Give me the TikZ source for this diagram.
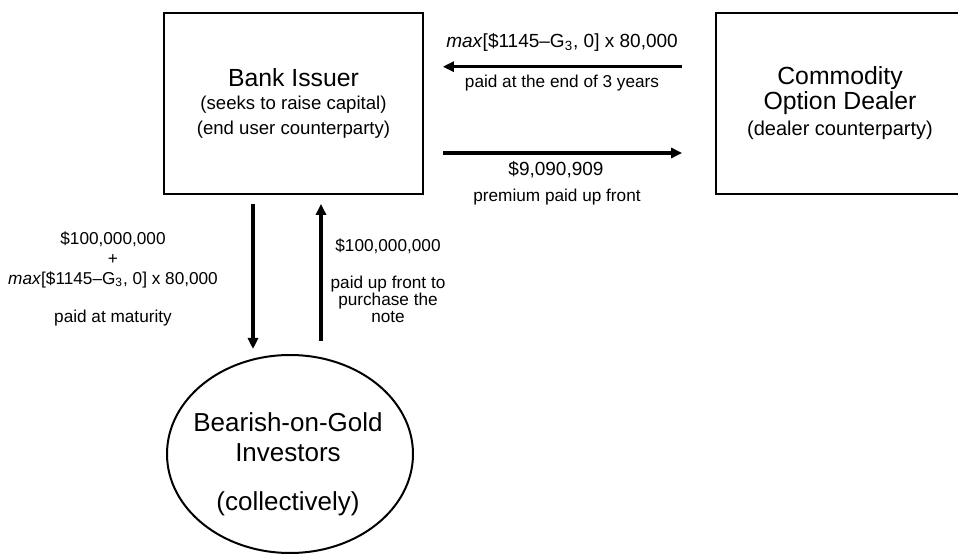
\documentclass[tikz,border=0pt]{standalone}
\usepackage{fontspec}
\setmainfont{Liberation Sans}
\usepackage{tikz}
\usetikzlibrary{arrows.meta,calc,shapes.geometric}
\newcommand{\partyfont}{\fontsize{12.4}{14}\selectfont}
\tikzset{
  flow/.style={-{Triangle[length=5.5pt,width=5pt]}, line width=1.8pt},
  party/.style={draw, line width=0.85pt, align=center, inner sep=0pt,
                minimum height=90.5pt},
  crowd/.style={draw, ellipse, line width=1pt, inner sep=0pt},
  amount/.style={align=center, inner sep=0pt, font=\fontsize{9.5}{11}\selectfont},
  note/.style={align=center, inner sep=0pt, font=\fontsize{8.6}{10}\selectfont},
}

\begin{document}
\begin{tikzpicture}[x=0.5pt,y=-0.5pt,font=\fontsize{8.6}{10}\selectfont]
    \useasboundingbox (0,0) rectangle (958,555);
    \clip (0,0) rectangle (958,555);
    \node[party,minimum width=129.5pt,font=\fontsize{9.3}{12.5}\selectfont] (bank) at (293.5,103.5)
      {{\partyfont Bank Issuer}\\[-1pt](seeks to raise capital)\\(end user counterparty)};
    \node[party,minimum width=124pt,font=\fontsize{10}{13}\selectfont] (dealer) at (840,103.5)
      {{\partyfont Commodity}\\[-0.5pt]{\partyfont Option Dealer}\\(dealer counterparty)};
    \node[crowd,minimum width=123pt,minimum height=99pt] (inv) at (290,454) {};
    \node[align=center,inner sep=0pt,font=\fontsize{13}{15}\selectfont] (invtext) at (288,464)
      {Bearish-on-Gold\\Investors\\[9.5pt](collectively)};
    \node[amount] (capamt) at (562,42) {\textit{max}[\$1145--G\textsubscript{3}, 0] x 80,000};
    \node[note] (capnote) at (562,83) {paid at the end of 3 years};
    \node[amount] (premamt) at (556,170) {\$9,090,909};
    \node[note] (premnote) at (557,197) {premium paid up front};
    \node[note] (payout) at (113,279)
      {\$100,000,000\\+\\\textit{max}[\$1145--G\textsubscript{3}, 0] x 80,000\\[9pt]paid at maturity};
    \node[note,font=\fontsize{8.6}{8.6}\selectfont] (price) at (388,281)
      {\$100,000,000\\[9.8pt]paid up front to\\purchase the\\note};
    \draw[flow,shorten <=16.5pt,shorten >=9.5pt] ([yshift=18.4pt]dealer.west) -- ([yshift=18.4pt]bank.east);
    \draw[flow,shorten <=9.5pt,shorten >=16.5pt] ([yshift=-24.75pt]bank.east) -- ([yshift=-24.75pt]dealer.west);
    \draw[flow] ($(bank.south)+(-40.5,9)$) -- ($(inv.north)+(-37,-5)$);
    \draw[flow] ($(inv.north)+(31,-13)$) -- ($(bank.south)+(27.5,9)$);
\end{tikzpicture}
\end{document}
